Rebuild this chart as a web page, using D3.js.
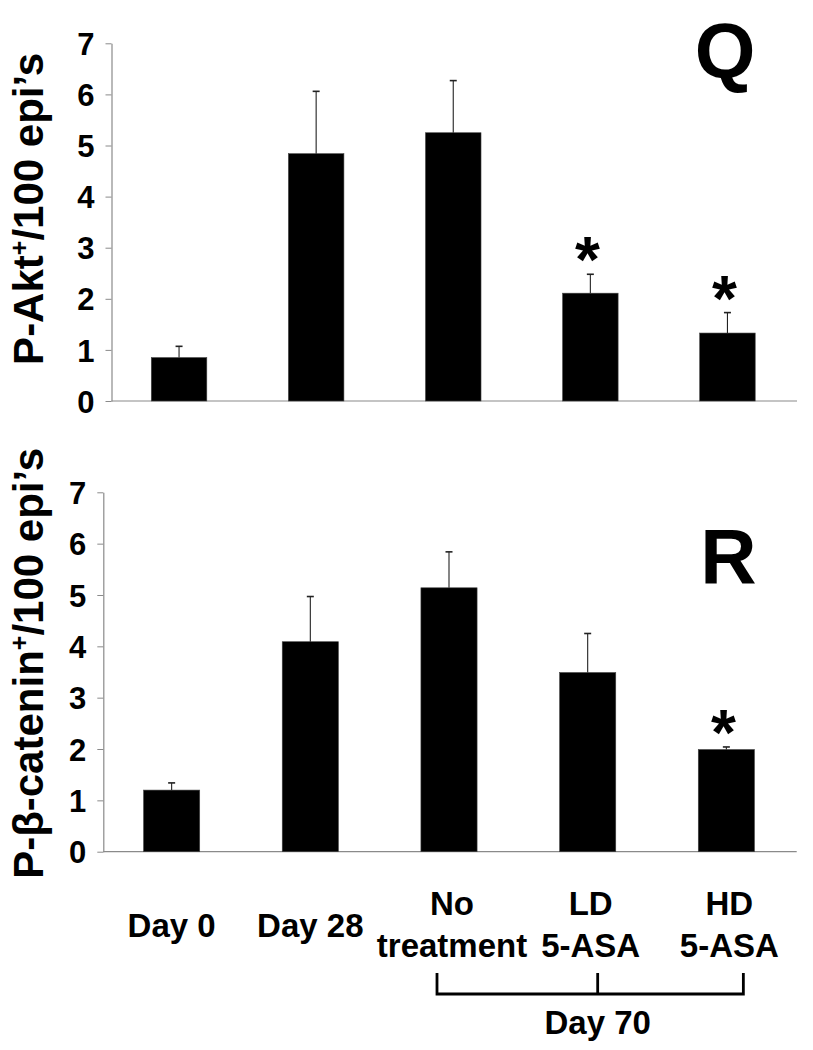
<!DOCTYPE html>
<html>
<head>
<meta charset="utf-8">
<script src="https://cdn.jsdelivr.net/npm/d3@7/dist/d3.min.js"></script>
<style>
  html, body { margin: 0; padding: 0; background: #fff; }
  svg { display: block; }
  text { font-family: "Liberation Sans", Arial, Helvetica, sans-serif; font-weight: bold; fill: #000; }
</style>
</head>
<body>
<script>
// ---------------- data ----------------
const categories = ["Day 0", "Day 28", "No treatment", "LD 5-ASA", "HD 5-ASA"];
const categoryLabelLines = [["Day 0"], ["Day 28"], ["No", "treatment"], ["LD", "5-ASA"], ["HD", "5-ASA"]];
const yTickValues = [0, 1, 2, 3, 4, 5, 6, 7];

const aktMeans  = [0.85, 4.84, 5.25, 2.11, 1.33];
const aktErrors = [0.22, 1.22, 1.02, 0.37, 0.40];
const aktSignificant = [false, false, false, true, true];

const cateninMeans  = [1.20, 4.09, 5.14, 3.49, 1.99];
const cateninErrors = [0.14, 0.88, 0.70, 0.76, 0.05];
const cateninSignificant = [false, false, false, false, true];

const groupLabel = "Day 70";
const groupMembers = ["No treatment", "LD 5-ASA", "HD 5-ASA"];

// ---------------- drawing ----------------
const W = 813, H = 1050;
const svg = d3.select("body").append("svg").attr("width", W).attr("height", H);

function drawPanel(cfg) {
  const x = d3.scaleBand().domain(categories).range([cfg.x0, cfg.x1]).padding(0);
  const y = d3.scaleLinear().domain([0, 7]).range([cfg.yBottom, cfg.yTop]);
  const g = svg.append("g");
  const bw = x.bandwidth() * 0.405;
  const cx = c => x(c) + x.bandwidth() / 2 - 1;

  // y axis
  const ax = g.append("g")
    .attr("transform", `translate(${cfg.x0},0)`)
    .call(d3.axisLeft(y).tickValues(yTickValues).tickSize(6).tickSizeOuter(0).tickPadding(11).tickFormat(d3.format("d")));
  ax.select(".domain").attr("stroke", "#8a8a8a").attr("stroke-width", 1.2);
  ax.selectAll(".tick line").attr("stroke", "#8a8a8a").attr("stroke-width", 1);
  ax.selectAll(".tick text")
    .attr("fill", "#000")
    .style("font-size", "31px")
    .style("font-family", "'Liberation Sans', Arial, sans-serif")
    .style("font-weight", "bold")
    .attr("dy", "0.36em");

  // x axis baseline
  g.append("line")
    .attr("x1", cfg.x0).attr("x2", cfg.x1)
    .attr("y1", y(0)).attr("y2", y(0))
    .attr("stroke", "#8a8a8a").attr("stroke-width", 1.2);

  const rows = categories.map((c, i) => ({ c, m: cfg.means[i], e: cfg.errors[i], s: cfg.sig[i] }));

  // bars
  g.selectAll("rect.bar").data(rows).enter().append("rect")
    .attr("class", "bar")
    .attr("x", d => cx(d.c) - bw / 2)
    .attr("width", bw)
    .attr("y", d => y(d.m))
    .attr("height", d => y(0) - y(d.m))
    .attr("fill", "#000")
    .attr("stroke", "#444").attr("stroke-width", 0.6);

  // error bars (upper only)
  g.selectAll("line.err").data(rows).enter().append("line")
    .attr("class", "err")
    .attr("x1", d => cx(d.c)).attr("x2", d => cx(d.c))
    .attr("y1", d => y(d.m)).attr("y2", d => y(d.m + d.e))
    .attr("stroke", "#222").attr("stroke-width", 1.1);
  g.selectAll("line.cap").data(rows).enter().append("line")
    .attr("class", "cap")
    .attr("x1", d => cx(d.c) - 3.5).attr("x2", d => cx(d.c) + 3.5)
    .attr("y1", d => y(d.m + d.e)).attr("y2", d => y(d.m + d.e))
    .attr("stroke", "#222").attr("stroke-width", 1.6);

  // significance asterisks
  g.selectAll("text.star").data(rows.filter(d => d.s)).enter().append("text")
    .attr("class", "star")
    .attr("x", d => cx(d.c) - 3)
    .attr("y", d => y(d.m + d.e) - 28 + 36)
    .attr("text-anchor", "middle")
    .style("font-size", "64px")
    .text("*");

  // y title (rotated)
  const t = g.append("text")
    .attr("transform", `translate(${cfg.titleX},${cfg.titleEndY}) rotate(-90)`)
    .attr("text-anchor", "end")
    .style("font-size", "42px");
  t.append("tspan").text(cfg.titlePre);
  t.append("tspan").text("+").style("font-size", "25px").attr("dy", "-15");
  t.append("tspan").text(cfg.titlePost).attr("dy", "15");

  // panel letter
  g.append("text")
    .attr("x", cfg.letterX).attr("y", cfg.letterY)
    .attr("text-anchor", "middle")
    .style("font-size", "78px")
    .text(cfg.letter);

  return { x, y, cx };
}

drawPanel({
  x0: 111.5, x1: 797, yBottom: 401, yTop: 43.3,
  means: aktMeans, errors: aktErrors, sig: aktSignificant,
  titlePre: "P-Akt", titlePost: "/100 epi\u2019s", titleX: 43, titleEndY: 53,
  letter: "Q", letterX: 725, letterY: 78
});

const bottom = drawPanel({
  x0: 103.3, x1: 796.7, yBottom: 851.7, yTop: 492.3,
  means: cateninMeans, errors: cateninErrors, sig: cateninSignificant,
  titlePre: "P-\u03B2-catenin", titlePost: "/100 epi\u2019s", titleX: 43, titleEndY: 448,
  letter: "R", letterX: 728.5, letterY: 583
});

// category labels
const labG = svg.append("g");
categories.forEach((c, i) => {
  const lines = categoryLabelLines[i];
  const xc = bottom.cx(c) + (lines.length > 1 ? 3 : 0);
  const baselines = lines.length > 1 ? [915, 957] : [937];
  lines.forEach((ln, j) => {
    labG.append("text")
      .attr("x", xc).attr("y", baselines[j])
      .attr("text-anchor", "middle")
      .style("font-size", "33px")
      .text(ln);
  });
});

// Day 70 bracket
const bx = [bottom.cx(groupMembers[0]) - 12, bottom.cx(groupMembers[1]) + 10, bottom.cx(groupMembers[2]) + 17];
const bTop = 973, bLine = 994;
const br = svg.append("g").attr("stroke", "#000").attr("stroke-width", 2.8).attr("fill", "none");
br.append("path").attr("d", `M${bx[0]},${bTop} V${bLine} H${bx[2]} V${bTop}`);
br.append("line").attr("x1", bx[1]).attr("x2", bx[1]).attr("y1", bTop).attr("y2", bLine);
svg.append("text")
  .attr("x", bx[1]).attr("y", 1034)
  .attr("text-anchor", "middle")
  .style("font-size", "33px")
  .text(groupLabel);
</script>
</body>
</html>
